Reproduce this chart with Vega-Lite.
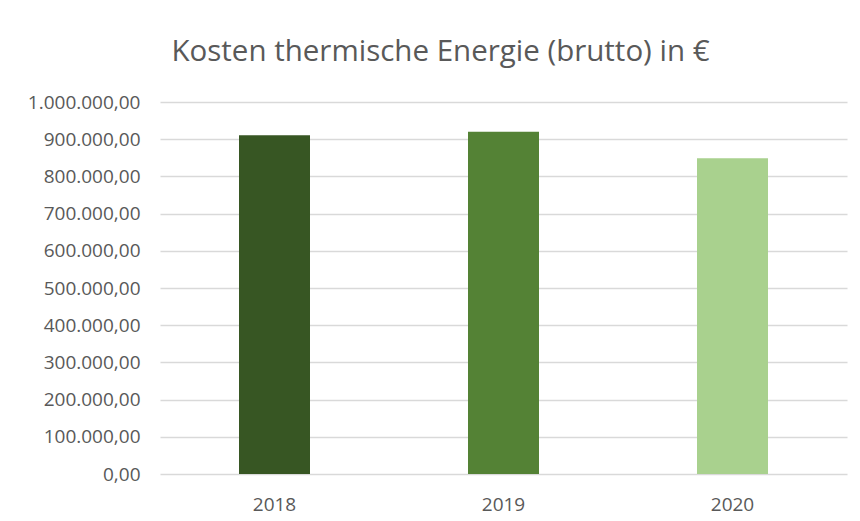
{
  "$schema": "https://vega.github.io/schema/vega-lite/v6.json",
  "autosize": {"type": "none"},
  "width": 687,
  "height": 372,
  "padding": {"left": 160, "top": 102, "right": 13, "bottom": 47},
  "background": "white",
  "config": {
    "locale": {"number": {"decimal": ",", "thousands": ".", "grouping": [3], "currency": ["", " €"]}},
    "view": {"stroke": null},
    "font": "Open Sans"
  },
  "title": {
    "text": "Kosten thermische Energie (brutto) in €",
    "font": "Open Sans",
    "fontSize": 29.5,
    "fontWeight": "normal",
    "color": "#595959",
    "anchor": "middle",
    "baseline": "alphabetic",
    "offset": 3,
    "dx": -63
  },
  "data": {
    "values": [
      {"Jahr": "2018", "Kosten": 910500},
      {"Jahr": "2019", "Kosten": 920000},
      {"Jahr": "2020", "Kosten": 848500}
    ]
  },
  "mark": {"type": "bar", "size": 71},
  "encoding": {
    "x": {
      "field": "Jahr",
      "type": "nominal",
      "title": null,
      "axis": {
        "labelAngle": 0,
        "domain": false,
        "ticks": false,
        "labelFont": "Open Sans",
        "labelFontSize": 19,
        "labelColor": "#595959",
        "labelPadding": 21
      }
    },
    "y": {
      "field": "Kosten",
      "type": "quantitative",
      "title": null,
      "scale": {"domain": [0, 1000000], "nice": false},
      "axis": {
        "values": [0, 100000, 200000, 300000, 400000, 500000, 600000, 700000, 800000, 900000, 1000000],
        "format": ",.2f",
        "domain": false,
        "ticks": false,
        "labelFont": "Open Sans",
        "labelFontSize": 19,
        "labelColor": "#595959",
        "labelPadding": 20,
        "gridColor": "#d9d9d9",
        "gridWidth": 1.5
      }
    },
    "color": {
      "field": "Jahr",
      "type": "nominal",
      "scale": {"domain": ["2018", "2019", "2020"], "range": ["#375623", "#548235", "#A9D18E"]},
      "legend": null
    }
  }
}
